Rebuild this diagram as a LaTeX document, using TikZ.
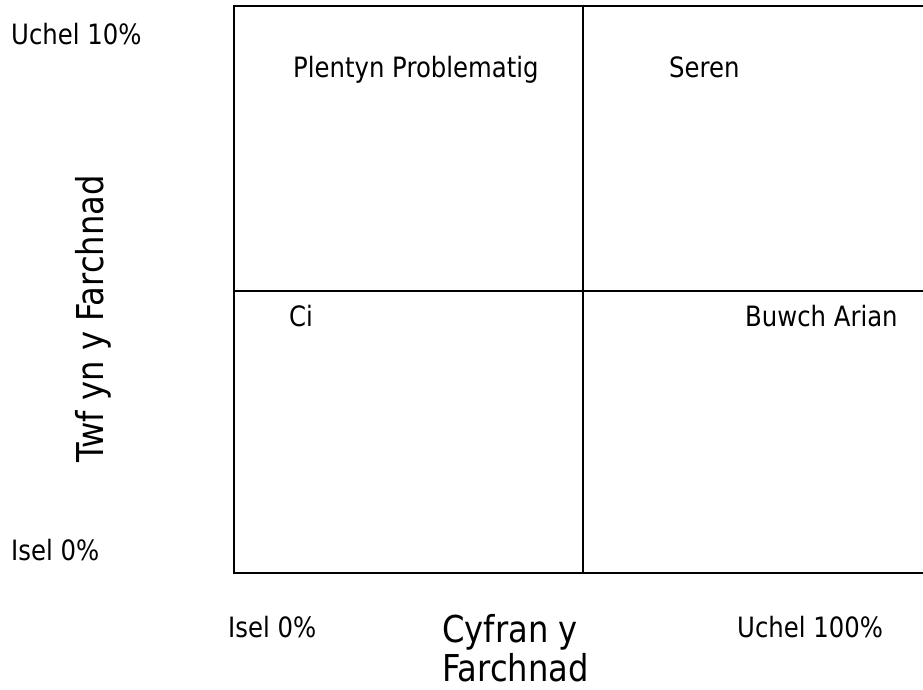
\documentclass[tikz,border=0pt]{standalone}
\usepackage{fontspec}
\setmainfont[FakeStretch=0.87]{DejaVu Sans}
\begin{document}
\begin{tikzpicture}[x=1pt,y=-1pt,
  lbl/.style={inner sep=0pt,anchor=base west,font=\fontsize{28}{34}\selectfont},
  big/.style={inner sep=0pt,anchor=base west,font=\fontsize{37}{44}\selectfont},
  grid/.style={line width=2pt,black}]
\useasboundingbox (0,0) rectangle (923,690);
\clip (0,0) rectangle (923,690);
\coordinate (tl) at (233.5,6.5);
\coordinate (bl) at (233.5,573);
\coordinate (tr) at (930,6.5);
\coordinate (br) at (930,573);
\coordinate (mt) at (583,6.5);
\coordinate (mb) at (583,573);
\coordinate (ml) at (233.5,291);
\coordinate (mr) at (930,291);
\draw[grid] (tr) -- (tl) -- (bl) -- (br);
\draw[grid] (mt) -- (mb);
\draw[grid] (ml) -- (mr);
\node[lbl] (uh) at (11,45) {Uchel 10\%};
\node[lbl] (il) at (11,560) {Isel 0\%};
\node[big,rotate=90] (twf) at (103,463) {Twf yn y Farchnad};
\node[lbl] (pp) at (293,78) {Plentyn Problematig};
\node[lbl] (sr) at (669,78) {Seren};
\node[lbl] (ci) at (289,326) {Ci};
\node[lbl] (ba) at (745,326) {Buwch Arian};
\node[lbl] (ib) at (228,637) {Isel 0\%};
\node[big] (cf1) at (442,642) {Cyfran y};
\node[big] (cf2) at (442,681) {Farchnad};
\node[lbl] (ub) at (737,637) {Uchel 100\%};
\end{tikzpicture}
\end{document}
